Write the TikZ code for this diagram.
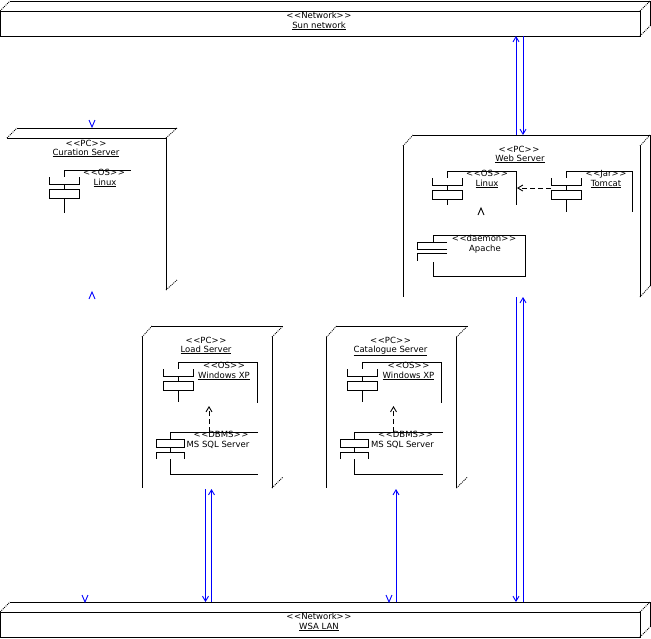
\documentclass[tikz,border=0pt]{standalone}
\usepackage{fontspec}
\setmainfont{DejaVu Sans}
\usetikzlibrary{arrows.meta}
\newcommand\stereo[1]{<\kern0.6pt<#1>\kern0.6pt>}
\begin{document}
\begin{tikzpicture}[x=1pt,y=-1pt,
  edge/.style={line width=0.9pt},
  dia/.style={line width=0.8pt, dash pattern=on 1pt off 1pt},
  lbl/.style={inner sep=0pt, anchor=base, font=\fontsize{8.5}{9}\selectfont},
  link/.style={blue, line width=0.9pt},
  tipb/.style={-{Straight Barb[length=5pt,width=6pt]}},
  dep/.style={line width=0.9pt, dash pattern=on 5pt off 3pt, -{Straight Barb[length=5pt,width=6pt]}},
  comp/.pic={
    \draw[edge] (0,0) -- (0,7);
    \draw[edge] (-15,7) -- (-15,14) -- (15,14) -- (15,7);
    \draw[edge] (0,14) -- (0,19);
    \draw[edge] (-15,19) rectangle (15,28);
  },
  compflip/.pic={
    \draw[edge] (0,0) -- (0,7);
    \draw[edge] (-14,7) rectangle (14,15);
    \draw[edge] (0,15) -- (0,20);
    \draw[edge] (-14,27) -- (-14,20) -- (14,20) -- (14,27);
  },
  vdown/.pic={\draw[link] (-3,-7) -- (0,0) -- (3,-7);},
  vupblue/.pic={\draw[link] (-3,7) -- (0,0) -- (3,7);},
  vupblack/.pic={\draw[edge] (-3,7) -- (0,0) -- (3,7);}]
\useasboundingbox (0,0) rectangle (651,638);

% ---------- Sun network ----------
\draw[edge] (0,11) rectangle (640,36);
\draw[edge] (10,1) -- (650,1) -- (650,26);
\draw[dia] (0,11) -- (10,1) (640,11) -- (650,1) (640,36) -- (650,26);
\node[lbl] (sunS) at (319,18.5) {\stereo{Network}};
\node[lbl] (sunN) at (319,28) {\underline{Sun network}};

% ---------- WSA LAN ----------
\draw[edge] (0,612) rectangle (640,637);
\draw[edge] (10,602) -- (650,602) -- (650,627);
\draw[dia] (0,612) -- (10,602) (640,612) -- (650,602) (640,637) -- (650,627);
\node[lbl] (lanS) at (319,619.5) {\stereo{Network}};
\node[lbl] (lanN) at (319,629) {\underline{WSA LAN}};

% ---------- Curation Server ----------
\draw[edge] (7,138) -- (166,138) -- (166,290);
\draw[edge] (17,128) -- (177,128);
\draw[dia] (7,138) -- (17,128) (166,138) -- (177,128) (166,290) -- (177,280);
\node[lbl] (curS) at (86,146) {\stereo{PC}};
\node[lbl] (curN) at (86,155) {\underline{Curation Server}};
\draw[edge] (64,170) -- (131,170);
\pic at (64,170) {comp};
\draw[edge] (64,198) -- (64,213);
\node[lbl] (curOsS) at (104,175) {\stereo{OS}};
\node[lbl] (curOsN) at (105,185) {\underline{Linux}};

% ---------- Web Server ----------
\draw[edge] (413,135) -- (650,135) -- (650,286);
\draw[edge] (403,146) -- (403,297);
\draw[edge] (640,146) -- (640,297);
\draw[dia] (403,146) -- (413,135) (640,146) -- (650,135) (640,297) -- (650,286);
\node[lbl] (webS) at (519,152) {\stereo{PC}};
\node[lbl] (webN) at (520,161) {\underline{Web Server}};
% Linux
\draw[edge] (447,171) -- (516,171) -- (516,205);
\pic at (447,171) {comp};
\draw[edge] (447,199) -- (447,205);
\node[lbl] (webOsS) at (487,176) {\stereo{OS}};
\node[lbl] (webOsN) at (487,186) {\underline{Linux}};
% Tomcat
\draw[edge] (566,171) -- (632,171) -- (632,212);
\pic at (566,171) {comp};
\draw[edge] (566,199) -- (566,212);
\node[lbl] (tomS) at (606,176) {\stereo{Jar}};
\node[lbl] (tomN) at (606,186) {\underline{Tomcat}};
\coordinate (tomL) at (551,188);
\coordinate (linR) at (517,188);
\draw[dep] (tomL) -- (linR);
\pic at (481,208) {vupblack};
% Apache
\draw[edge] (433,242) -- (433,235) -- (525,235) -- (525,276) -- (433,276) -- (433,262);
\draw[edge] (447,242) -- (417,242) -- (417,249) -- (447,249);
\draw[edge] (447,253) -- (417,253) -- (417,261);
\node[lbl] (apaS) at (484,241) {\stereo{daemon}};
\node[lbl] (apaN) at (485,251) {Apache};

% ---------- Load Server ----------
\draw[edge] (151,326) -- (283,326);
\draw[edge] (142,337) -- (142,488);
\draw[edge] (272,337) -- (272,488);
\draw[dia] (142,337) -- (152,326) (272,337) -- (283,326) (272,488) -- (283,477);
\node[lbl] (loadS) at (206,343) {\stereo{PC}};
\node[lbl] (loadN) at (206,352) {\underline{Load Server}};
\draw[edge] (178,362) -- (257,362) -- (257,403);
\pic at (178,362) {comp};
\draw[edge] (178,390) -- (178,402);
\node[lbl] (loadOsS) at (224,368) {\stereo{OS}};
\node[lbl] (loadOsN) at (224,378) {\underline{Windows XP}};
\coordinate (loadDbT) at (209,432);
\coordinate (loadOsB) at (209,406);
\draw[dep] (loadDbT) -- (loadOsB);
\draw[edge] (258,432) -- (170,432);
\pic at (170,432) {compflip};
\draw[edge] (170,459) -- (170,474) -- (258,474);
\node[lbl] (loadDbS) at (221,437) {\stereo{DBMS}};
\node[lbl] (loadDbN) at (218,447) {MS SQL Server};

% ---------- Catalogue Server ----------
\begin{scope}[xshift=184.5pt]
\draw[edge] (151,326) -- (283,326);
\draw[edge] (142,337) -- (142,488);
\draw[edge] (272,337) -- (272,488);
\draw[dia] (142,337) -- (152,326) (272,337) -- (283,326) (272,488) -- (283,477);
\node[lbl] (catS) at (206,343) {\stereo{PC}};
\node[lbl] (catN) at (206,352) {\underline{Catalogue Server}};
\draw[edge] (178,362) -- (257,362) -- (257,403);
\pic at (178,362) {comp};
\draw[edge] (178,390) -- (178,402);
\node[lbl] (catOsS) at (224,368) {\stereo{OS}};
\node[lbl] (catOsN) at (224,378) {\underline{Windows XP}};
\coordinate (catDbT) at (209,432);
\coordinate (catOsB) at (209,406);
\draw[dep] (catDbT) -- (catOsB);
\draw[edge] (258,432) -- (170,432);
\pic at (170,432) {compflip};
\draw[edge] (170,459) -- (170,474) -- (258,474);
\node[lbl] (catDbS) at (221,437) {\stereo{DBMS}};
\node[lbl] (catDbN) at (218,447) {MS SQL Server};
\end{scope}

% ---------- blue connectors ----------
\coordinate (sunB1) at (516,36);  \coordinate (webT1) at (516,135);
\coordinate (sunB2) at (523,36);  \coordinate (webT2) at (523,135);
\coordinate (webB1) at (516,297); \coordinate (lanT1) at (516,602);
\coordinate (webB2) at (523,297); \coordinate (lanT2) at (523,602);
\coordinate (loadB1) at (205.5,489); \coordinate (lanT3) at (205.5,602);
\coordinate (loadB2) at (211.5,489); \coordinate (lanT4) at (211.5,602);
\coordinate (catB) at (396,489); \coordinate (lanT5) at (396,602);
\draw[link, tipb] (webT1) -- (sunB1);
\draw[link, tipb] (sunB2) -- (webT2);
\draw[link, tipb] (webB1) -- (lanT1);
\draw[link, tipb] (lanT2) -- (webB2);
\draw[link, tipb] (loadB1) -- (lanT3);
\draw[link, tipb] (lanT4) -- (loadB2);
\draw[link, tipb] (lanT5) -- (catB);
% isolated arrow heads
\pic at (92,127) {vdown};
\pic at (92,292) {vupblue};
\pic at (85,602) {vdown};
\pic at (389,602) {vdown};
\end{tikzpicture}
\end{document}
